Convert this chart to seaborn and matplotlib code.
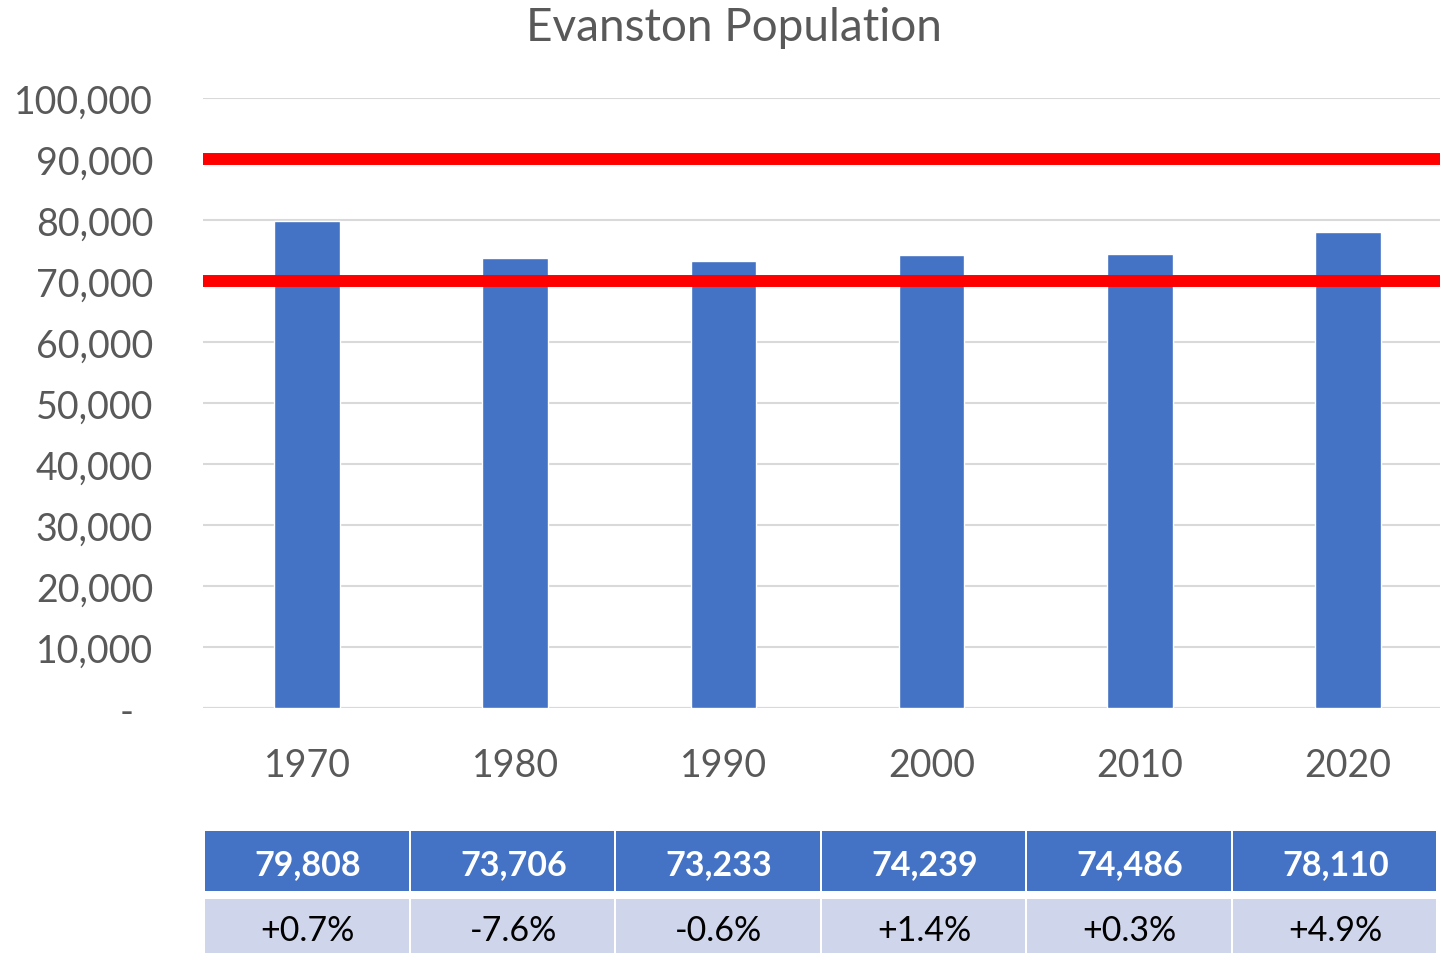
import matplotlib
matplotlib.use("Agg")
import matplotlib.pyplot as plt
import seaborn as sns
import pandas as pd
from matplotlib.patches import Rectangle
from matplotlib.ticker import FuncFormatter

# 数据
years = ["1970", "1980", "1990", "2000", "2010", "2020"]
population = [79808, 73706, 73233, 74239, 74486, 78110]
pct_change = ["+0.7%", "-7.6%", "-0.6%", "+1.4%", "+0.3%", "+4.9%"]
ref_lines = [70000, 90000]

BLUE = "#4472C4"
LIGHT = "#CFD5EA"
GREY = "#595959"

sns.set_theme(style="white")
plt.rcParams['font.family'] = ['Lato', 'DejaVu Sans']

df = pd.DataFrame({'year': years, 'population': population})

fig = plt.figure(figsize=(14.4, 9.54), dpi=100)
W, H = 1440, 954

# 主图区域
ax = fig.add_axes([203 / W, 245 / H, 1249 / W, 610 / H])
sns.barplot(x='year', y='population', data=df, color=BLUE, width=0.315,
            saturation=1, ax=ax, zorder=2)
for v in ref_lines:
    ax.axhline(v, color='#FF0000', lw=8.6, zorder=3)

ax.set_xlim(-0.5, 5.5)
ax.set_ylim(0, 100000)
ax.set_yticks(range(0, 100001, 10000))
ax.yaxis.set_major_formatter(FuncFormatter(lambda v, p: '-  ' if v == 0 else f'{int(v):,}'))
ax.yaxis.grid(True, color='#D9D9D9', lw=1.5, zorder=0)
ax.set_axisbelow(True)
for s in ax.spines.values():
    s.set_visible(False)
ax.axhline(0, color='#D9D9D9', lw=1.5, zorder=1)
ax.tick_params(axis='y', labelsize=27, labelcolor=GREY, length=0, pad=36)
ax.tick_params(axis='x', labelsize=27, labelcolor=GREY, length=0, pad=28)
ax.set_xlabel('')
ax.set_ylabel('')

fig.text(734 / W, 1 - 28 / H, 'Evanston Population', ha='center', va='center',
         fontsize=33, color=GREY)

# 底部表格
tax = fig.add_axes([205 / W, 0, 1233 / W, 122 / H])
tax.set_xlim(0, 1233)
tax.set_ylim(0, 122)
tax.axis('off')
cw = 1233 / 6
for i in range(6):
    x0 = i * cw
    tax.add_patch(Rectangle((x0, 62), cw - 2, 60, color=BLUE, lw=0))
    tax.add_patch(Rectangle((x0, 0), cw - 2, 54, color=LIGHT, lw=0))
    tax.text(x0 + cw / 2, 89, f'{population[i]:,}', ha='center', va='center',
             fontsize=24.5, fontweight='bold', color='white')
    tax.text(x0 + cw / 2, 23, pct_change[i], ha='center', va='center',
             fontsize=24.5, color='black')

fig.savefig('out.png', dpi=100)
